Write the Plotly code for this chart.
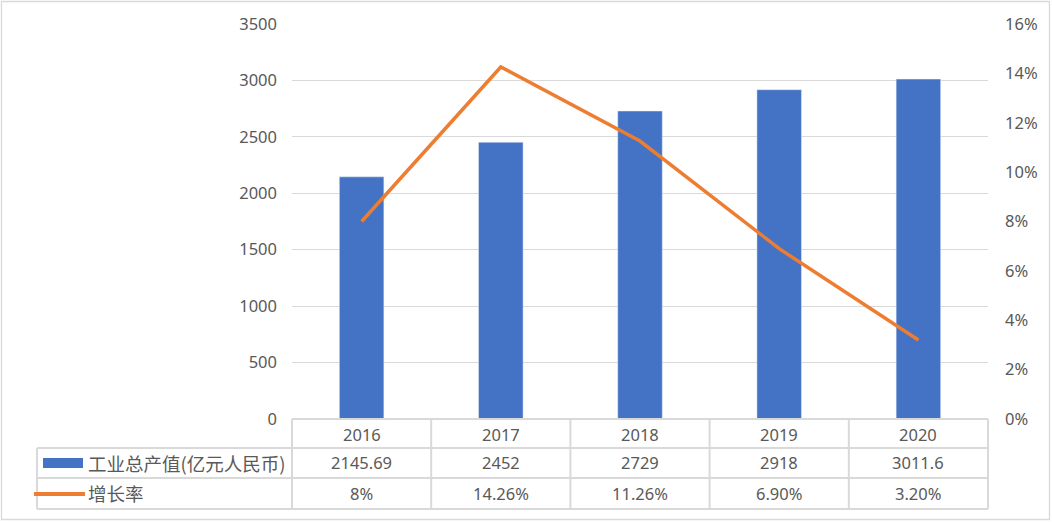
import plotly.graph_objects as go

years = ["2016", "2017", "2018", "2019", "2020"]
output_value = [2145.69, 2452, 2729, 2918, 3011.6]
output_labels = ["2145.69", "2452", "2729", "2918", "3011.6"]
growth_rate = [0.08, 0.1426, 0.1126, 0.069, 0.032]
growth_labels = ["8%", "14.26%", "11.26%", "6.90%", "3.20%"]
series_names = ["工业总产值(亿元人民币)", "增长率"]
left_ticks = [0, 500, 1000, 1500, 2000, 2500, 3000, 3500]
right_ticks = [0, 0.02, 0.04, 0.06, 0.08, 0.10, 0.12, 0.14, 0.16]

W, H = 1052, 523
L, R, T, B = 292, 988, 24, 419
PW, PH = R - L, B - T

def px(x):
    return (x - L) / PW

def py(y):
    return (B - y) / PH

FONT = "Noto Sans CJK SC, DengXian, Microsoft YaHei, sans-serif"
NUMFONT = "Noto Sans, Noto Sans CJK SC, sans-serif"
GRAY = "#595959"
LINE = "#d9d9d9"
BLUE = "#4472C4"
ORANGE = "#ED7D31"
NS = 16.5
CS = 18.5

xs = list(range(len(years)))

fig = go.Figure()
fig.add_trace(go.Bar(x=xs, y=output_value, marker_color=BLUE, width=0.32,
                     name=series_names[0], hoverinfo="y"))
fig.add_trace(go.Scatter(x=xs, y=growth_rate, mode="lines", yaxis="y2",
                         line=dict(color=ORANGE, width=3.5),
                         name=series_names[1]))

shapes = []
shapes.append(dict(type="rect", xref="paper", yref="paper",
                   x0=px(1.5), x1=px(1049.5), y0=py(519.5), y1=py(1.5),
                   line=dict(color=LINE, width=1.3), layer="below"))
band = PW / len(years)
for i in range(len(years) + 1):
    xx = L + i * band
    shapes.append(dict(type="line", xref="paper", yref="paper",
                       x0=px(xx), x1=px(xx), y0=py(419), y1=py(509),
                       line=dict(color=LINE, width=2)))
shapes.append(dict(type="line", xref="paper", yref="paper",
                   x0=px(37), x1=px(37), y0=py(448), y1=py(509),
                   line=dict(color=LINE, width=2)))
for yy in [448, 478, 509]:
    shapes.append(dict(type="line", xref="paper", yref="paper",
                       x0=px(37), x1=px(R), y0=py(yy), y1=py(yy),
                       line=dict(color=LINE, width=2)))
shapes.append(dict(type="line", xref="paper", yref="paper",
                   x0=px(L), x1=px(R), y0=py(419), y1=py(419),
                   line=dict(color=LINE, width=2)))
shapes.append(dict(type="rect", xref="paper", yref="paper",
                   x0=px(43), x1=px(83), y0=py(468), y1=py(458),
                   fillcolor=BLUE, line=dict(width=0)))
shapes.append(dict(type="line", xref="paper", yref="paper",
                   x0=px(34), x1=px(85), y0=py(494), y1=py(494),
                   line=dict(color=ORANGE, width=4)))

annotations = []
rows_y = [434, 463, 493]
for i, yr in enumerate(years):
    for row, txt in enumerate([yr, output_labels[i], growth_labels[i]]):
        annotations.append(dict(x=i, y=py(rows_y[row]), xref="x", yref="paper",
                                text=txt, showarrow=False, yanchor="middle",
                                xanchor="center",
                                font=dict(family=NUMFONT, size=NS, color=GRAY)))
annotations.append(dict(x=px(86), y=py(rows_y[1]), xref="paper", yref="paper",
                        text=series_names[0], showarrow=False, xanchor="left",
                        yanchor="middle",
                        font=dict(family=FONT, size=CS, color=GRAY)))
annotations.append(dict(x=px(86), y=py(rows_y[2]), xref="paper", yref="paper",
                        text=series_names[1], showarrow=False, xanchor="left",
                        yanchor="middle",
                        font=dict(family=FONT, size=CS, color=GRAY)))

fig.update_layout(
    width=W, height=H,
    margin=dict(l=L, r=W - R, t=T, b=H - B, pad=0),
    paper_bgcolor="white", plot_bgcolor="white",
    showlegend=False,
    font=dict(family=NUMFONT, size=NS, color=GRAY),
    xaxis=dict(range=[-0.5, len(years) - 0.5], showticklabels=False,
               showgrid=False, zeroline=False, showline=False, ticks=""),
    yaxis=dict(range=[0, 3500], tickvals=left_ticks, showgrid=True,
               gridcolor=LINE, gridwidth=1.3, zeroline=False, showline=False,
               ticks="", ticklabelstandoff=14,
               tickfont=dict(family=NUMFONT, size=NS, color=GRAY)),
    yaxis2=dict(range=[0, 0.16], tickvals=right_ticks, tickformat=".0%",
                overlaying="y", side="right", showgrid=False, zeroline=False,
                showline=False, ticks="", ticklabelstandoff=16,
                tickfont=dict(family=NUMFONT, size=NS, color=GRAY)),
    shapes=shapes, annotations=annotations,
)

fig.write_html("out.html")
